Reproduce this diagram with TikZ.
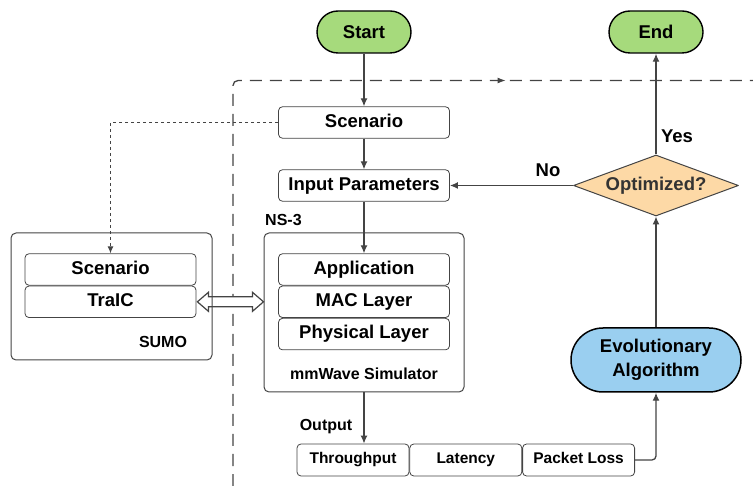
\documentclass[tikz,border=0pt]{standalone}
\usepackage{fontspec}
\setmainfont{Liberation Sans}
\usetikzlibrary{positioning,calc,shapes.geometric,arrows.meta,decorations.markings,backgrounds}
\definecolor{termgreen}{HTML}{A6DA7C}
\definecolor{evoblue}{HTML}{9ACFF0}
\definecolor{decpeach}{HTML}{FDD9A6}
\definecolor{linegray}{HTML}{444444}
\tikzset{
  bigtxt/.style={font=\bfseries\fontsize{18.5}{24}\selectfont},
  midtxt/.style={font=\bfseries\fontsize{16}{19}\selectfont},
  smalltxt/.style={font=\bfseries\fontsize{15.5}{18}\selectfont},
  terminal/.style={bigtxt, draw=black, line width=1.4pt, fill=termgreen, rounded corners=21pt, minimum width=94pt, minimum height=42pt},
  procbox/.style={bigtxt, draw=linegray, line width=0.8pt, rounded corners=4pt, minimum width=171pt, minimum height=31.5pt, inner sep=0pt, text height=13pt, text depth=3.5pt},
  outbox/.style={smalltxt, draw=linegray, line width=0.8pt, rounded corners=4pt, minimum width=112pt, minimum height=32pt, inner sep=0pt, text height=11pt, text depth=3pt},
  container/.style={draw=linegray, line width=1pt, rounded corners=5pt, inner sep=0pt},
  flow/.style={draw=linegray, line width=1.3pt, -{Latex[length=8pt,width=7pt]}},
}
\begin{document}
\begin{tikzpicture}[x=1pt, y=-1pt, line join=round]
  \useasboundingbox (0,0) rectangle (753,486);
  % outer loop frame
  \coordinate (fbl) at (233,486);
  \coordinate (ftr) at (753,80.5);
  \begin{scope}[on background layer]
    \draw[linegray, line width=1.3pt, rounded corners=5pt, dash pattern=on 12pt off 8pt,
      postaction={decorate}, decoration={markings, mark=at position 676pt with {\arrow{Latex[length=8pt,width=6pt]}}}]
      (fbl) |- (ftr);
  \end{scope}

  % main flow
  \node[terminal] (start) at (364,32) {Start};
  \node[terminal] (end) at (656,32) {End};
  \node[procbox] (scen) at (364,122.5) {Scenario};
  \node[procbox] (inp) at (364,185.5) {Input Parameters};

  % ns-3 block
  \node[container, minimum width=200pt, minimum height=159pt] (ns3) at (364,312.5) {};
  \node[midtxt, anchor=south west, inner sep=0pt] (ns3lbl) at (265,226) {NS-3};
  \node[procbox] (app) at (364,269.5) {Application};
  \node[procbox, below=0pt of app] (mac) {MAC Layer};
  \node[procbox, below=0pt of mac] (phy) {Physical Layer};
  \node[midtxt] (mmw) at (364,374) {mmWave Simulator};

  % sumo block
  \node[container, minimum width=201pt, minimum height=127pt] (sumo) at (111.5,296.5) {};
  \node[procbox] (sscen) at (110.5,269.5) {Scenario};
  \node[procbox, below=0pt of sscen] (traic) {TraIC};
  \node[midtxt] (sumolbl) at (163,342) {SUMO};

  % outputs
  \node[midtxt] (outlbl) at (326,427) {Output};
  \node[outbox] (thr) at (353,460) {Throughput};
  \node[outbox, right=0pt of thr] (lat) {Latency};
  \node[outbox, right=0pt of lat] (pl) {Packet Loss};

  % optimisation
  \node[bigtxt, draw=black, line width=1.5pt, fill=evoblue, rounded corners=32pt, minimum width=170pt, minimum height=64pt, align=center] (evo) at (656,360) {Evolutionary\\Algorithm};
  \node[diamond, aspect=2.7, bigtxt, text=black!80, draw=linegray, line width=1pt, fill=decpeach, inner sep=0pt, minimum width=165pt, minimum height=61pt] (opt) at (656,185.5) {Optimized?};
  \node[bigtxt] (yes) at (677,136) {Yes};
  \node[bigtxt] (no) at (548,170) {No};

  % sumo <-> ns-3 coupling
  \coordinate (cl) at ($(traic.east)+(1,0)$);
  \coordinate (cr) at (ns3.west |- traic.east);
  \begin{scope}[on background layer]
    \draw[linegray, fill=white, line width=1.2pt]
      (cl) -- ++(11,-9.5) -- ++(0,4.5) -- ($(cr)+(-11,-5)$) -- ++(0,-4.5) -- (cr)
      -- ++(-11,9.5) -- ++(0,-4.5) -- ($(cl)+(11,5)$) -- ++(0,4.5) -- cycle;
  \end{scope}

  % connectors
  \draw[flow] (start) -- (scen);
  \draw[flow] (scen) -- (inp);
  \draw[flow] (inp) -- (app);
  \draw[flow] (ns3.south) -- (ns3.south |- thr.north);
  \draw[flow, rounded corners=4pt] (pl.east) -| (evo.south);
  \draw[flow] (evo) -- (opt);
  \draw[flow] (opt) -- (end);
  \draw[flow] (opt) -- (inp);
  \draw[linegray, line width=1.1pt, dash pattern=on 3.5pt off 2.5pt, -{Latex[length=7pt,width=6pt]}] (scen.west) -| (sscen.north);
\end{tikzpicture}
\end{document}
